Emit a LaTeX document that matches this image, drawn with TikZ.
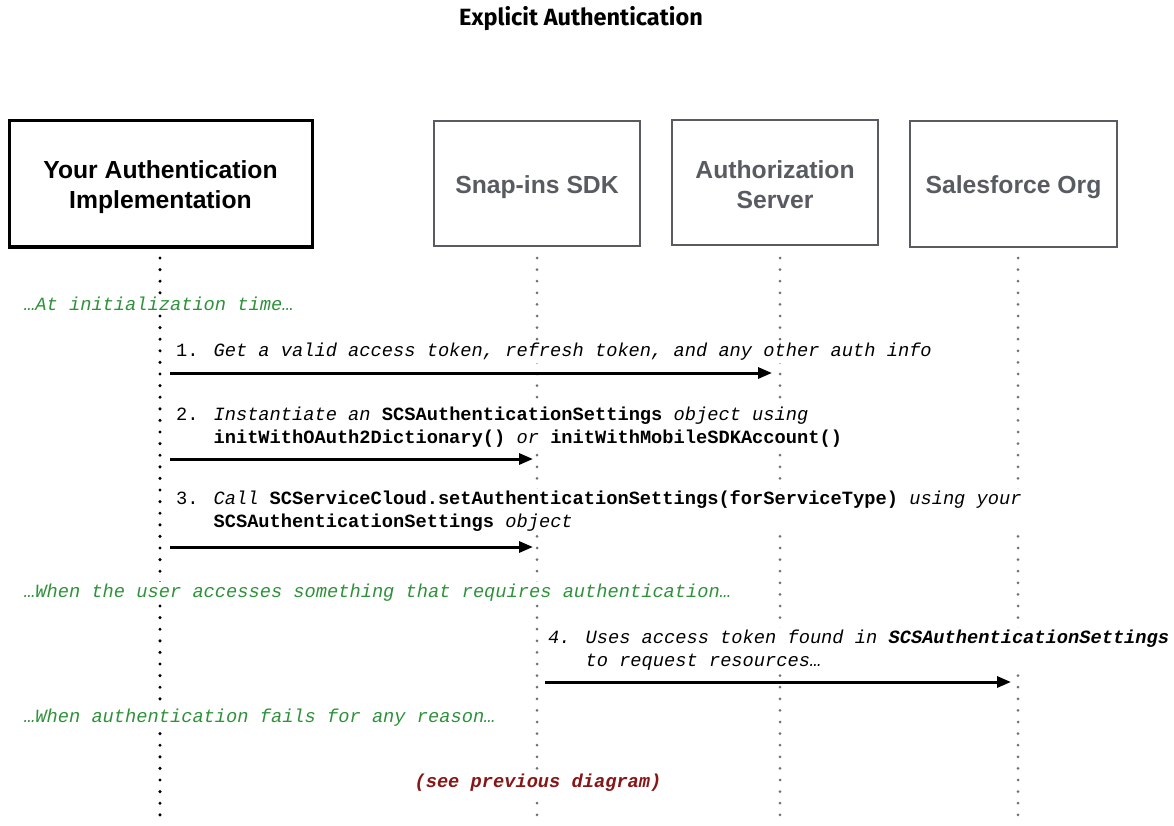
\documentclass[tikz,border=0pt]{standalone}
\usepackage{fontspec}
\setmainfont{Liberation Sans}
\newfontfamily\monof{Liberation Mono}
\newfontfamily\titlef{Fira Sans}
\usetikzlibrary{arrows.meta}
\definecolor{boxgrey}{RGB}{88,92,98}
\definecolor{lifegrey}{RGB}{110,114,120}
\definecolor{notegreen}{RGB}{46,146,58}
\definecolor{notered}{RGB}{135,22,22}
\tikzset{
  actor/.style={draw=boxgrey, line width=2.6pt, fill=white, inner sep=0pt},
  mainactor/.style={actor, draw=black, line width=3pt},
  actorlbl/.style={text=boxgrey, align=center, inner sep=0pt,
    font=\fontsize{24.7}{30}\selectfont\bfseries},
  mainlbl/.style={actorlbl, text=black},
  life/.style={line width=3pt, line cap=round, dash pattern=on 0pt off 11.6pt, draw=lifegrey},
  mainlife/.style={life, draw=black, line width=3.4pt},
  msg/.style={line width=3pt, -{Triangle[length=14pt,width=11pt]}},
  txt/.style={fill=white, inner sep=2pt, align=left, text=black,
    font=\monof\fontsize{18.7}{23}\selectfont},
  note/.style={txt, text=notegreen, font=\monof\itshape\fontsize{18.7}{23}\selectfont},
}
\begin{document}
\begin{tikzpicture}[x=1pt,y=-1pt]
\useasboundingbox (0,0) rectangle (1174,826);
\node[font=\titlef\bfseries\fontsize{23.5}{28}\selectfont] (title) at (581,19) {Explicit Authentication};
% actors
\node[mainactor, minimum width=303pt, minimum height=126pt] (you) at (160.5,184) {};
\node[actor, minimum width=206pt, minimum height=125pt] (sdk) at (537,183.5) {};
\node[actor, minimum width=206pt, minimum height=125pt] (auth) at (775,182.5) {};
\node[actor, minimum width=207pt, minimum height=126pt] (org) at (1013.5,184) {};
\node[mainlbl] (youl) at (160.5,187.5) {Your Authentication\\Implementation};
\node[actorlbl] (sdkl) at (537,187) {Snap-ins SDK};
\node[actorlbl] (authl) at (775,185) {Authorization\\Server};
\node[actorlbl] (orgl) at (1013.5,187.5) {Salesforce Org};
% lifelines
\coordinate (l1t) at (160,258); \coordinate (l1b) at (160,826);
\coordinate (l2t) at (537,258); \coordinate (l2b) at (537,826);
\coordinate (l3t) at (780,258); \coordinate (l3b) at (780,826);
\coordinate (l4t) at (1018,258); \coordinate (l4b) at (1018,826);
\draw[mainlife] (l1t) -- (l1b);
\draw[life] (l2t) -- (l2b);
\draw[life] (l3t) -- (l3b);
\draw[life] (l4t) -- (l4b);
% notes
\node[note, anchor=west] (n1) at (22,303.5) {…At initialization time…};
\node[note, anchor=west] (n2) at (22,593) {…When the user accesses something that requires authentication…};
\node[note, anchor=west] (n3) at (22,718) {…When authentication fails for any reason…};
\node[txt, text=notered, font=\monof\bfseries\itshape\fontsize{18.7}{23}\selectfont] (n4) at (538,783) {(see previous diagram)};
% messages
\node[txt, anchor=west] (t1) at (174,352) {1. \textit{Get a valid access token, refresh token, and any other auth info}};
\node[txt, anchor=west] (t2) at (174,427.5) {2. \textit{Instantiate an} \textbf{SCSAuthenticationSettings} \textit{object using}\\
\phantom{2. }\textbf{initWithOAuth2Dictionary()} \textit{or} \textbf{initWithMobileSDKAccount()}};
\node[txt, anchor=west] (t3) at (174,511.5) {3. \textit{Call} \textbf{SCServiceCloud.setAuthenticationSettings(forServiceType)} \textit{using your}\\
\phantom{3. }\textbf{SCSAuthenticationSettings} \textit{object}};
\node[txt, anchor=west] (t4) at (546,650.5) {\textit{4. Uses access token found in} \textbf{\textit{SCSAuthenticationSettings}}\\
\phantom{4. }\textit{to request resources…}};
\coordinate (a1s) at (170,373); \coordinate (a1e) at (772,373);
\coordinate (a2s) at (170,459); \coordinate (a2e) at (533,459);
\coordinate (a3s) at (170,547); \coordinate (a3e) at (533,547);
\coordinate (a4s) at (545,682); \coordinate (a4e) at (1011,682);
\draw[msg] (a1s) -- (a1e);
\draw[msg] (a2s) -- (a2e);
\draw[msg] (a3s) -- (a3e);
\draw[msg] (a4s) -- (a4e);
\end{tikzpicture}
\end{document}
